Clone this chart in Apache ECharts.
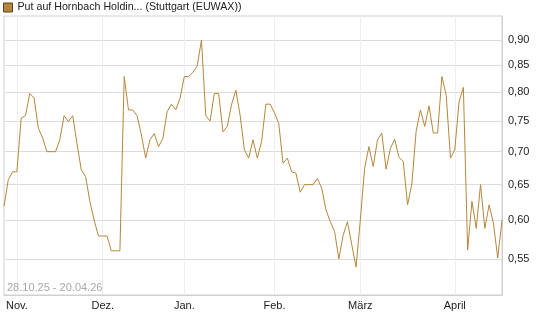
<!DOCTYPE html>
<html>
<head>
<meta charset="utf-8">
<script src="https://cdn.jsdelivr.net/npm/echarts@6/dist/echarts.min.js"></script>
<style>
  html, body { margin: 0; padding: 0; background: #fff; }
  #myChart { width: 545px; height: 327px; }
</style>
</head>
<body>
<div id="myChart"></div>
<script>
// Handelstage 29.10.25 - 20.04.26 (Wochenenden und Börsenfeiertage fehlen)
var startDate = '2025-10-29';
var endDate = '2026-04-20';
var holidays = ['2025-12-24', '2025-12-25', '2025-12-26', '2025-12-31', '2026-01-01', '2026-04-03', '2026-04-06'];

var monthNames = ['Jan.', 'Feb.', 'März', 'April', 'Mai', 'Juni', 'Juli', 'Aug.', 'Sep.', 'Okt.', 'Nov.', 'Dez.'];

var yTicks = [0.55, 0.60, 0.65, 0.70, 0.75, 0.80, 0.85, 0.90];

var seriesName = 'Put auf Hornbach Holdin... (Stuttgart (EUWAX))';
var rangeText = '28.10.25 - 20.04.26';

// Schlusskurse
var prices = [
    0.619, 0.657, 0.669, 0.669, 0.755, 0.759, 0.798, 0.790, 0.738, 0.722,
    0.700, 0.700, 0.700, 0.719, 0.759, 0.749, 0.759, 0.713, 0.672, 0.662,
    0.626, 0.600, 0.579, 0.579, 0.579, 0.560, 0.560, 0.560, 0.829, 0.769,
    0.769, 0.759, 0.727, 0.690, 0.719, 0.729, 0.708, 0.721, 0.766, 0.779,
    0.769, 0.789, 0.829, 0.829, 0.837, 0.849, 0.900, 0.759, 0.750, 0.798,
    0.798, 0.732, 0.741, 0.778, 0.804, 0.760, 0.703, 0.690, 0.719, 0.690,
    0.716, 0.779, 0.779, 0.764, 0.746, 0.682, 0.690, 0.669, 0.667, 0.639,
    0.650, 0.650, 0.650, 0.659, 0.645, 0.614, 0.598, 0.585, 0.550, 0.580,
    0.598, 0.568, 0.540, 0.600, 0.674, 0.708, 0.677, 0.719, 0.730, 0.673,
    0.705, 0.720, 0.691, 0.685, 0.621, 0.651, 0.733, 0.769, 0.741, 0.776,
    0.730, 0.730, 0.829, 0.795, 0.690, 0.703, 0.783, 0.809, 0.561, 0.626,
    0.589, 0.650, 0.589, 0.621, 0.596, 0.551, 0.600
];

function getDates() {
    var dates = [];
    var d = new Date(startDate + 'T12:00:00Z');
    var end = new Date(endDate + 'T12:00:00Z');
    while (d <= end) {
        var s = d.toISOString().slice(0, 10);
        var wd = d.getUTCDay();
        if (wd !== 0 && wd !== 6 && holidays.indexOf(s) < 0) {
            dates.push(s);
        }
        d.setUTCDate(d.getUTCDate() + 1);
    }
    return dates;
}

var dates = getDates();

// erster Handelstag eines Monats
function isMonthStart(index) {
    if (index === 0) return false;
    return dates[index].slice(5, 7) !== dates[index - 1].slice(5, 7);
}

var myChart = echarts.init(document.getElementById('myChart'));

var option = {
    animation: false,
    textStyle: { fontFamily: 'Liberation Sans, Arial, sans-serif' },
    title: {
        text: rangeText,
        left: 2,
        top: 277,
        textStyle: { fontSize: 11, fontWeight: 'normal', color: '#a8a8a8' }
    },
    legend: {
        left: 0,
        top: 1,
        icon: 'rect',
        itemWidth: 9,
        itemHeight: 9,
        itemGap: 5,
        padding: [1, 3],
        textStyle: { fontSize: 10.67, color: '#222' },
        itemStyle: { borderColor: '#5a4222', borderWidth: 1 },
        data: [seriesName]
    },
    grid: {
        left: 4,
        right: 43,
        top: 16,
        bottom: 32,
        show: true,
        borderColor: '#d0d0d0',
        borderWidth: 1
    },
    xAxis: {
        type: 'category',
        boundaryGap: false,
        data: dates,
        axisLine: { lineStyle: { color: '#d0d0d0' } },
        axisTick: { show: false },
        axisLabel: {
            interval: function (index) { return isMonthStart(index); },
            formatter: function (val) { return monthNames[parseInt(val.slice(5, 7), 10) - 1]; },
            color: '#222',
            fontSize: 11,
            margin: 5
        },
        splitLine: {
            show: true,
            interval: function (index) { return isMonthStart(index); },
            lineStyle: { color: '#eeeeee' }
        }
    },
    yAxis: {
        type: 'log',
        logBase: 10,
        position: 'right',
        min: 0.507,
        max: 0.95,
        axisLine: { show: true, lineStyle: { color: '#d0d0d0' } },
        axisTick: { show: false, customValues: yTicks },
        axisLabel: {
            customValues: yTicks,
            formatter: function (v) { return v.toFixed(2).replace('.', ','); },
            color: '#222',
            fontSize: 11,
            margin: 6
        },
        splitLine: { show: true, lineStyle: { color: '#dcdcdc' } }
    },
    series: [{
        name: seriesName,
        type: 'line',
        data: prices,
        symbol: 'none',
        color: '#b5863c',
        lineStyle: { width: 1, color: '#b5863c' }
    }]
};

myChart.setOption(option);
</script>
</body>
</html>
